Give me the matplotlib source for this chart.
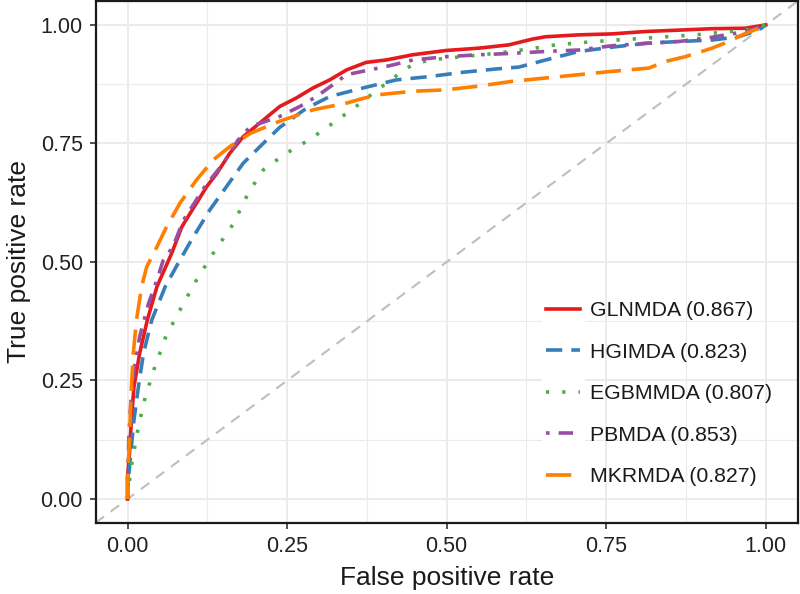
import matplotlib
matplotlib.use('Agg')
import matplotlib.pyplot as plt
from matplotlib.patches import Rectangle

plt.rcParams['font.family'] = ['Liberation Sans', 'DejaVu Sans']

# ROC curves (false positive rate, true positive rate)
gln_fpr = [0, 0, 0.003, 0.006, 0.010, 0.019, 0.031, 0.046, 0.069, 0.085, 0.095, 0.108, 0.124, 0.140,
           0.160, 0.181, 0.2125, 0.225, 0.2385, 0.2646, 0.2906, 0.3167, 0.343, 0.374, 0.405, 0.447,
           0.499, 0.551, 0.598, 0.634, 0.655, 0.707, 0.759, 0.811, 0.864, 0.916, 0.968, 1.0]
gln_tpr = [0, 0.048, 0.097, 0.167, 0.237, 0.308, 0.378, 0.448, 0.518, 0.574, 0.596, 0.624, 0.659, 0.687,
           0.729, 0.764, 0.799, 0.813, 0.828, 0.846, 0.867, 0.884, 0.905, 0.921, 0.926, 0.937,
           0.946, 0.951, 0.958, 0.970, 0.975, 0.979, 0.981, 0.986, 0.989, 0.992, 0.993, 1.0]

hgi_fpr = [0, 0, 0.005, 0.010, 0.017, 0.025, 0.038, 0.059, 0.082, 0.103, 0.129, 0.155, 0.181, 0.2125,
           0.2385, 0.28, 0.317, 0.369, 0.421, 0.473, 0.525, 0.577, 0.613, 0.655, 0.707, 0.759,
           0.811, 0.864, 0.916, 0.957, 0.989, 1.0]
hgi_tpr = [0, 0.023, 0.097, 0.167, 0.237, 0.308, 0.378, 0.448, 0.504, 0.553, 0.610, 0.659, 0.708, 0.750,
           0.784, 0.824, 0.849, 0.867, 0.884, 0.891, 0.900, 0.907, 0.911, 0.926, 0.944, 0.953,
           0.961, 0.965, 0.968, 0.975, 0.989, 1.0]

egb_fpr = [0, 0.005, 0.014, 0.025, 0.041, 0.060, 0.085, 0.108, 0.134, 0.166, 0.189, 0.2125, 0.246,
           0.285, 0.322, 0.358, 0.395, 0.411, 0.429, 0.447, 0.473, 0.525, 0.577, 0.629, 0.671,
           0.733, 0.811, 0.889, 0.968, 1.0]
egb_tpr = [0.004, 0.062, 0.132, 0.202, 0.272, 0.343, 0.406, 0.462, 0.518, 0.581, 0.645, 0.694, 0.727,
           0.758, 0.793, 0.828, 0.867, 0.881, 0.902, 0.916, 0.926, 0.933, 0.940, 0.949, 0.958,
           0.965, 0.972, 0.979, 0.989, 1.0]

pbm_fpr = [0, 0, 0.002, 0.005, 0.010, 0.019, 0.033, 0.046, 0.056, 0.071, 0.0875, 0.121, 0.150, 0.173,
           0.192, 0.2385, 0.27, 0.296, 0.322, 0.343, 0.379, 0.411, 0.447, 0.499, 0.551, 0.603,
           0.655, 0.707, 0.759, 0.811, 0.864, 0.916, 0.968, 1.0]
pbm_tpr = [0, 0.041, 0.132, 0.202, 0.272, 0.343, 0.413, 0.462, 0.504, 0.532, 0.588, 0.659, 0.708, 0.757,
           0.785, 0.807, 0.828, 0.849, 0.874, 0.895, 0.905, 0.914, 0.926, 0.933, 0.937, 0.940,
           0.944, 0.947, 0.956, 0.961, 0.965, 0.974, 0.986, 1.0]

mkr_fpr = [0, 0, 0.002, 0.004, 0.006, 0.009, 0.014, 0.022, 0.030, 0.046, 0.061, 0.082, 0.108, 0.134,
           0.160, 0.192, 0.2385, 0.291, 0.343, 0.369, 0.395, 0.447, 0.499, 0.551, 0.603, 0.655,
           0.707, 0.759, 0.817, 0.843, 0.874, 0.916, 0.942, 0.968, 0.994, 1.0]
mkr_tpr = [0, 0.06, 0.097, 0.167, 0.237, 0.308, 0.378, 0.448, 0.490, 0.532, 0.574, 0.624, 0.673, 0.715,
           0.743, 0.771, 0.797, 0.821, 0.835, 0.845, 0.853, 0.860, 0.863, 0.871, 0.881, 0.888,
           0.895, 0.902, 0.909, 0.923, 0.933, 0.951, 0.965, 0.982, 0.995, 1.0]

noms = ['GLNMDA (0.867)', 'HGIMDA (0.823)', 'EGBMMDA (0.807)', 'PBMDA (0.853)', 'MKRMDA (0.827)']
couleurs = ['#E41A1C', '#377EB8', '#4DAF4A', '#984EA3', '#FF7F00']
tirets = [None, (4.5, 2.5), (0.9, 3.6), (1, 2.5, 4, 2.5), (7, 3)]

courbes = [(gln_fpr, gln_tpr), (hgi_fpr, hgi_tpr), (egb_fpr, egb_tpr), (pbm_fpr, pbm_tpr), (mkr_fpr, mkr_tpr)]

fig = plt.figure(figsize=(8, 5.94), dpi=100)
ax = fig.add_axes([0.1196, 0.12, 0.8775, 0.878])

# diagonale de reference
ax.axline((0, 0), slope=1, color='#BEBEBE', lw=1.5, dashes=(5, 4), zorder=1.5)

for (x, y), nom, c, d in zip(courbes, noms, couleurs, tirets):
    ligne, = ax.plot(x, y, color=c, lw=2.6, label=nom, zorder=2)
    if d is not None:
        ligne.set_dashes(d)

ax.set_xlim(-0.05, 1.05)
ax.set_ylim(-0.05, 1.05)
ticks = [0, 0.25, 0.5, 0.75, 1.0]
ax.set_xticks(ticks)
ax.set_yticks(ticks)
ax.set_xticklabels(['0.00', '0.25', '0.50', '0.75', '1.00'])
ax.set_yticklabels(['0.00', '0.25', '0.50', '0.75', '1.00'])
ax.set_xticks([0.125, 0.375, 0.625, 0.875], minor=True)
ax.set_yticks([0.125, 0.375, 0.625, 0.875], minor=True)

ax.set_axisbelow(True)
ax.grid(which='major', color='#EBEBEB', lw=1.4)
ax.grid(which='minor', color='#EBEBEB', lw=0.8)
ax.tick_params(which='major', length=4.3, width=1.1, color='#222222', labelsize=15.5,
               labelcolor='#222222', pad=5)
ax.tick_params(which='minor', length=0)
for s in ax.spines.values():
    s.set_color('#1a1a1a')
    s.set_linewidth(1.6)

ax.set_xlabel('False positive rate', fontsize=19, color='#1a1a1a', labelpad=7)
ax.set_ylabel('True positive rate', fontsize=19, color='#1a1a1a', labelpad=7)

# fond blanc des cles de legende
ax.add_patch(Rectangle((0.636, 0.051), 0.0615, 0.395, transform=ax.transAxes,
                       facecolor='white', edgecolor='none', zorder=1))

leg = ax.legend(loc='center left', bbox_to_anchor=(0.6265, 0.2475), frameon=False,
                fontsize=15.3, handlelength=1.6, handletextpad=0.45, borderpad=0,
                labelspacing=1.06)
for t in leg.get_texts():
    t.set_color('#1a1a1a')

fig.savefig('out.png', dpi=100)
